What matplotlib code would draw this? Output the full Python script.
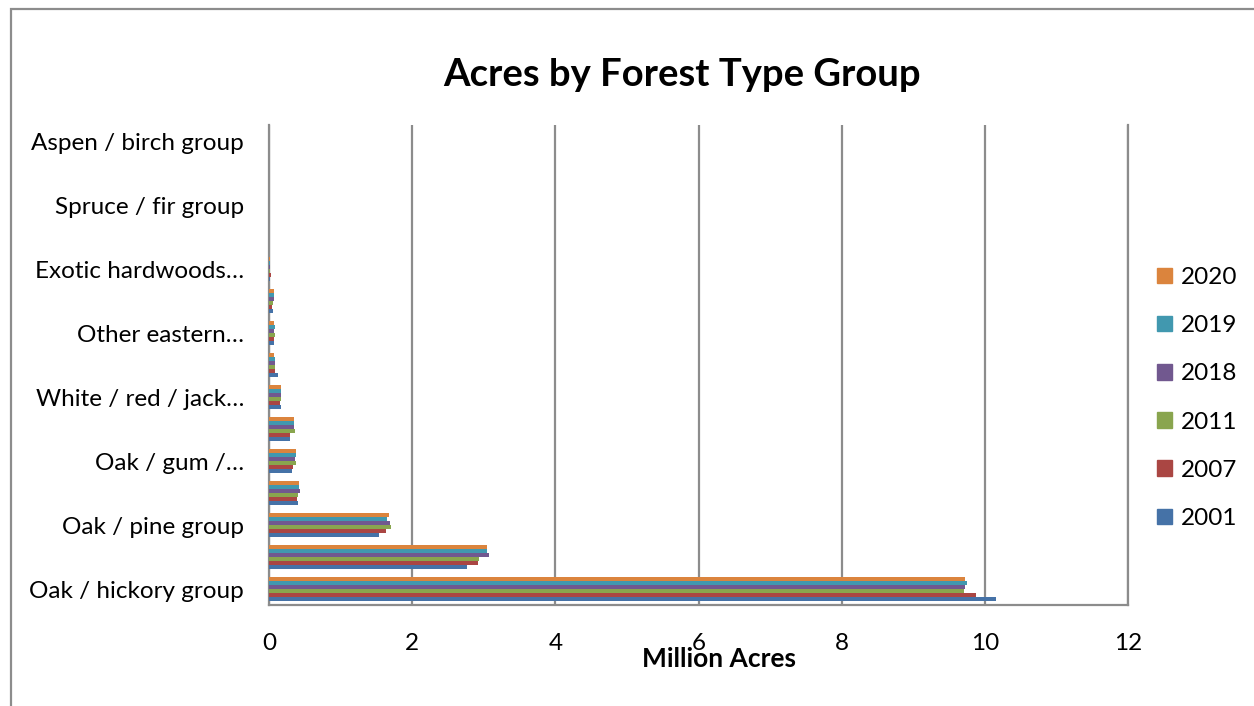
import numpy as np
import matplotlib.pyplot as plt
from matplotlib.patches import Patch, Rectangle

# Forest type groups, bottom to top of the chart
groups = [
    "Oak / hickory group",
    "Loblolly / shortleaf pine group",
    "Oak / pine group",
    "Elm / ash / cottonwood group",
    "Oak / gum / cypress group",
    "Maple / beech / birch group",
    "White / red / jack pine group",
    "Nonstocked",
    "Other eastern softwoods group",
    "Other hardwoods group",
    "Exotic hardwoods group",
    "Exotic softwoods group",
    "Spruce / fir group",
    "Other softwoods group",
    "Aspen / birch group",
]
# Axis labels as shown (every other group, truncated)
tick_labels = [
    "Oak / hickory group", "", "Oak / pine group", "", "Oak / gum /…", "",
    "White / red / jack…", "", "Other eastern…", "", "Exotic hardwoods…", "",
    "Spruce / fir group", "", "Aspen / birch group",
]

years = ["2001", "2007", "2011", "2018", "2019", "2020"]

# Million acres per group
acres_2001 = [10.16, 2.76, 1.54, 0.405, 0.317, 0.30, 0.17, 0.12, 0.075, 0.06, 0.015, 0, 0.001, 0, 0]
acres_2007 = [9.87, 2.92, 1.64, 0.39, 0.335, 0.30, 0.16, 0.09, 0.07, 0.04, 0.03, 0, 0.006, 0, 0]
acres_2011 = [9.71, 2.93, 1.70, 0.40, 0.38, 0.36, 0.17, 0.09, 0.09, 0.05, 0.02, 0, 0.001, 0, 0]
acres_2018 = [9.72, 3.07, 1.685, 0.44, 0.363, 0.35, 0.17, 0.08, 0.07, 0.07, 0.02, 0, 0.001, 0, 0]
acres_2019 = [9.75, 3.04, 1.65, 0.42, 0.377, 0.35, 0.17, 0.08, 0.08, 0.065, 0.015, 0, 0.001, 0, 0]
acres_2020 = [9.72, 3.04, 1.676, 0.42, 0.38, 0.35, 0.17, 0.07, 0.075, 0.07, 0.01, 0, 0.001, 0, 0]

series = [acres_2001, acres_2007, acres_2011, acres_2018, acres_2019, acres_2020]
colors = ["#4572A7", "#AA4643", "#89A54E", "#71588F", "#4198AF", "#DB843D"]

plt.rcParams["font.family"] = ["Lato", "DejaVu Sans"]
GRID_GRAY = "#8C8C8C"
LABEL_SIZE = 17.5

fig = plt.figure(figsize=(12.54, 7.06), dpi=100)
ax = fig.add_axes([269 / 1254, 1 - 605 / 706, (1128 - 269) / 1254, (605 - 125) / 706])

# Outer chart frame (only left and top edges fall inside the image)
fig.patches.append(Rectangle((11 / 1254, -0.1), 1.2, 1 - 9 / 706 + 0.1,
                             transform=fig.transFigure, fill=False,
                             edgecolor=GRID_GRAY, linewidth=1.6))

y = np.arange(len(groups))
bar_h = 0.13
for i, (vals, col, yr) in enumerate(zip(series, colors, years)):
    offset = (i - 2.5) * bar_h
    ax.barh(y + offset, vals, height=bar_h, color=col, label=yr, zorder=3)

ax.set_xlim(0, 12)
ax.set_ylim(-0.5, len(groups) - 0.5)
ax.set_xticks(range(0, 13, 2))
ax.set_yticks(y)
ax.set_yticklabels(tick_labels)
ax.tick_params(axis="both", length=0, labelsize=LABEL_SIZE)
ax.tick_params(axis="y", pad=18)
ax.tick_params(axis="x", pad=20)

ax.grid(axis="x", color=GRID_GRAY, linewidth=1.6, zorder=0)
for side in ("left", "bottom", "right"):
    ax.spines[side].set_color(GRID_GRAY)
    ax.spines[side].set_linewidth(1.6)
ax.spines["top"].set_visible(False)

fig.text(682 / 1254, 1 - 75 / 706, "Acres by Forest Type Group",
         ha="center", va="center", fontsize=27.5, fontweight="bold")
fig.text(719 / 1254, 1 - 659 / 706, "Million Acres",
         ha="center", va="center", fontsize=19, fontweight="bold")

handles = [Patch(color=c, label=yr) for c, yr in zip(colors, years)][::-1]
fig.legend(handles=handles, loc="center left",
           bbox_to_anchor=(1157 / 1254, 1 - 398 / 706), frameon=False,
           borderpad=0, borderaxespad=0,
           fontsize=LABEL_SIZE, handlelength=0.62, handleheight=0.62,
           handletextpad=0.35, labelspacing=1.12)

fig.savefig("out.png", dpi=100)
